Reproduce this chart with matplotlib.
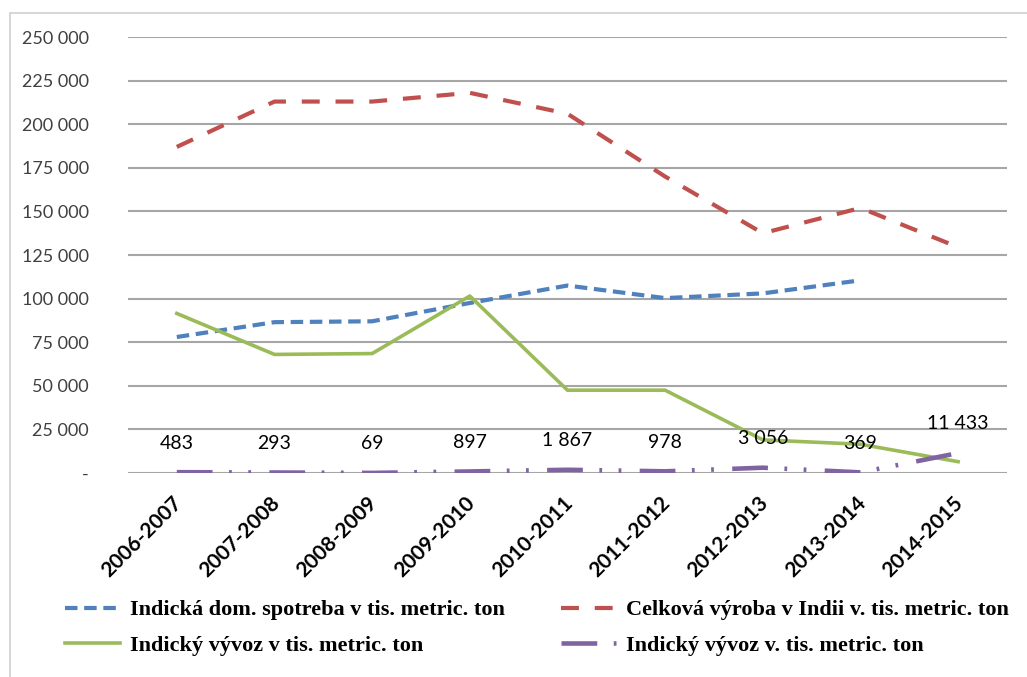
import numpy as np
import matplotlib.pyplot as plt
from matplotlib.patches import Rectangle
from matplotlib.transforms import ScaledTranslation

seasons = ['2006-2007', '2007-2008', '2008-2009', '2009-2010', '2010-2011',
           '2011-2012', '2012-2013', '2013-2014', '2014-2015']

# thousands of metric tons
domestic = [78000, 86500, 87000, 97500, 107500, 100300, 103000, 110500, np.nan]
production = [187000, 213000, 213000, 218000, 206000, 170000, 137500, 152000, 129500]
export = [91500, 68000, 68500, 101500, 47500, 47500, 19000, 16500, 6500]
export_small = [483, 293, 69, 897, 1867, 978, 3056, 369, 11433]

labels = ['Indická dom. spotreba v tis. metric. ton',
          'Celková výroba v Indii v. tis. metric. ton',
          'Indický vývoz v tis. metric. ton',
          'Indický vývoz v. tis. metric. ton']

c_blue = '#4F81BD'
c_red = '#C0504D'
c_green = '#9BBB59'
c_purple = '#8064A2'

plt.rcParams['font.family'] = ['Lato', 'DejaVu Sans']

fig = plt.figure(figsize=(10.27, 6.77), dpi=100)
ax = fig.add_axes([0.1246, 0.3013, 0.8559, 0.6440])

# light frame round the chart area
fig.patches.append(Rectangle((10 / 1027, -0.1), 1.2, 1 - 13 / 677 + 0.1,
                             transform=fig.transFigure, fill=False,
                             edgecolor='#D0D0D0', linewidth=1.2))

x = np.arange(len(seasons))

l_dom, = ax.plot(x, domestic, color=c_blue, lw=3, dashes=(3, 1.6))
l_prod, = ax.plot(x, production, color=c_red, lw=3, dashes=(4.3, 3.8))
l_exp, = ax.plot(x, export, color=c_green, lw=2.6)
l_small, = ax.plot(x, export_small, color=c_purple, lw=3.3,
                   dashes=(7.8, 3.6, 0.6, 3.6, 0.6, 4))

for xi, v in zip(x, export_small):
    ax.annotate(f'{v:,}'.replace(',', ' '), (xi, v), xytext=(0, 21),
                textcoords='offset points', ha='center', va='center',
                fontsize=14, color='black')

ax.set_xlim(-0.5, len(seasons) - 0.5)
ax.set_ylim(0, 250000)
yt = np.arange(0, 250001, 25000)
ax.set_yticks(yt)
ax.set_yticklabels(['-'] + [f'{v:,}'.replace(',', ' ') for v in yt[1:]],
                   fontsize=13, color='#404040')
ax.set_xticks(x)
ax.tick_params(axis='both', length=0)
ax.tick_params(axis='y', pad=28)
ax.tick_params(axis='x', pad=14)
ax.set_xticklabels(seasons, rotation=45, ha='right', va='top',
                   rotation_mode='anchor', fontsize=15, fontweight='bold')
# nudge the slanted season labels so they end right under their point
shift = ScaledTranslation(-0.05, 0.0, fig.dpi_scale_trans)
for lab in ax.get_xticklabels():
    lab.set_transform(lab.get_transform() + shift)

ax.grid(axis='y', color='#A6A6A6', lw=1.5)
ax.set_axisbelow(True)
for s in ax.spines.values():
    s.set_visible(False)

leg_font = {'family': 'Liberation Serif', 'weight': 'bold', 'size': 16}
leg_kw = dict(frameon=False, prop=leg_font, handlelength=2.45,
              handletextpad=0.45, labelspacing=0.66, borderaxespad=0)
fig.legend([l_dom, l_exp], [labels[0], labels[2]], loc='upper left',
           bbox_to_anchor=(0.055, 0.127), **leg_kw)
fig.legend([l_prod, l_small], [labels[1], labels[3]], loc='upper left',
           bbox_to_anchor=(0.538, 0.127), **leg_kw)

fig.savefig('out.png', dpi=100)
